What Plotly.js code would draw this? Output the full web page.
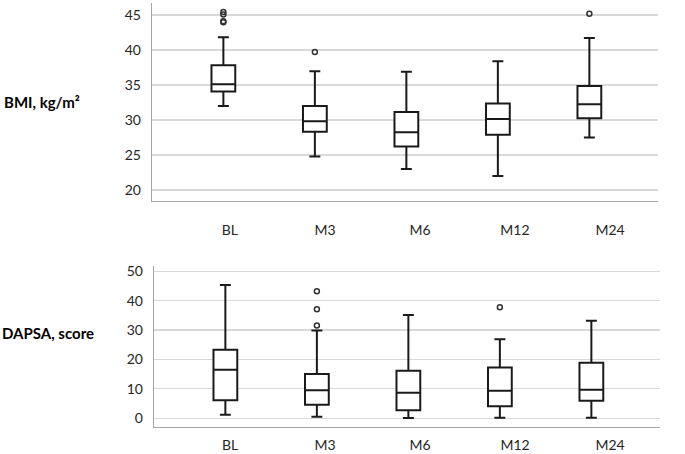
<!DOCTYPE html>
<html><head><meta charset="utf-8">
<script src="https://cdn.plot.ly/plotly-3.0.1.min.js"></script>
<style>html,body{margin:0;padding:0;background:#fff}#chart{width:685px;height:454px}</style>
</head><body><div id="chart"></div>
<script>
const categories = ['BL', 'M3', 'M6', 'M12', 'M24'];

// BMI, kg/m2
const bmiLow    = [32.0, 24.8, 23.0, 22.0, 27.5];
const bmiQ1     = [34.05, 28.3, 26.2, 27.9, 30.25];
const bmiMedian = [35.1, 29.8, 28.25, 30.15, 32.25];
const bmiQ3     = [37.8, 32.0, 31.15, 32.35, 34.85];
const bmiHigh   = [41.8, 36.95, 36.9, 38.4, 41.7];
const bmiOutlierCat = ['BL', 'BL', 'BL', 'BL', 'M3', 'M24'];
const bmiOutlierVal = [45.4, 45.05, 44.1, 43.95, 39.7, 45.15];

// DAPSA, score
const dapsaLow    = [1.2, 0.5, 0.1, 0.2, 0.2];
const dapsaQ1     = [6.1, 4.6, 2.7, 4.1, 6.0];
const dapsaMedian = [16.5, 9.5, 8.7, 9.4, 9.7];
const dapsaQ3     = [23.3, 15.1, 16.2, 17.3, 18.9];
const dapsaHigh   = [45.3, 29.9, 35.1, 26.9, 33.2];
const dapsaOutlierCat = ['M3', 'M3', 'M3', 'M12'];
const dapsaOutlierVal = [43.2, 37.1, 31.6, 37.8];

const FONT = 'Lato, "Open Sans", sans-serif';
const TXT = '#262626';

function boxTrace(xa, ya, low, q1, med, q3, high) {
  return {
    type: 'box', xaxis: xa, yaxis: ya,
    x: categories, q1: q1, median: med, q3: q3,
    lowerfence: low, upperfence: high,
    width: 0.26, whiskerwidth: 0.46,
    fillcolor: 'rgba(255,255,255,1)',
    line: {color: '#1a1a1a', width: 2},
    boxpoints: false, hoverinfo: 'skip', showlegend: false
  };
}
function outlierTrace(xa, ya, cats, vals) {
  return {
    type: 'scatter', mode: 'markers', xaxis: xa, yaxis: ya,
    x: cats, y: vals,
    marker: {symbol: 'circle-open', size: 5, color: '#333', line: {width: 1.5, color: '#333'}},
    hoverinfo: 'skip', showlegend: false
  };
}
function labelTrace(xa, ya) {
  return {type: 'scatter', mode: 'markers', xaxis: xa, yaxis: ya, x: categories,
    y: categories.map(() => null), marker: {opacity: 0}, hoverinfo: 'skip', showlegend: false};
}

const data = [
  boxTrace('x', 'y', bmiLow, bmiQ1, bmiMedian, bmiQ3, bmiHigh),
  outlierTrace('x', 'y', bmiOutlierCat, bmiOutlierVal),
  boxTrace('x2', 'y2', dapsaLow, dapsaQ1, dapsaMedian, dapsaQ3, dapsaHigh),
  outlierTrace('x2', 'y2', dapsaOutlierCat, dapsaOutlierVal),
  labelTrace('x3', 'y'),
  labelTrace('x4', 'y2')
];

const W = 685, H = 454;
const px = v => v / W, py = v => 1 - v / H;

const catAxis = (dom, anchor, range) => ({
  domain: dom, anchor: anchor, type: 'category',
  categoryorder: 'array', categoryarray: categories,
  range: range, showgrid: false, zeroline: false,
  showline: true, linecolor: '#a6a6a6', linewidth: 1.3,
  showticklabels: false, ticks: '', fixedrange: true
});
const labelAxis = (overlay, anchor, range, standoff) => ({
  overlaying: overlay, anchor: anchor, type: 'category',
  categoryorder: 'array', categoryarray: categories,
  range: range, showgrid: false, zeroline: false, showline: false,
  ticks: '', ticklabelstandoff: standoff,
  tickfont: {family: FONT, size: 14, color: TXT}
});
const valAxis = (dom, anchor, range, dtick) => ({
  domain: dom, anchor: anchor, range: range, dtick: dtick,
  showgrid: true, gridcolor: '#d9d9d9', gridwidth: 1.2, zeroline: false,
  showline: true, linecolor: '#a6a6a6', linewidth: 1.3,
  ticks: '', ticklabelstandoff: 7,
  tickfont: {family: FONT, size: 14, color: TXT}
});

const layout = {
  width: W, height: H,
  margin: {l: 0, r: 0, t: 0, b: 0},
  paper_bgcolor: '#fff', plot_bgcolor: '#fff',
  showlegend: false,
  font: {family: FONT, color: TXT},
  xaxis:  catAxis([px(152), px(658)], 'y',  [-0.78, 4.75]),
  yaxis:  valAxis([py(201), py(3)],   'x',  [18.43, 46.7], 5),
  xaxis2: catAxis([px(154), px(660)], 'y2', [-0.78, 4.75]),
  yaxis2: valAxis([py(426.7), py(266)], 'x2', [-2.86, 51.8], 10),
  xaxis3: Object.assign(labelAxis('x', 'y', [-0.82, 4.505], 19), {domain: [px(152), px(658)]}),
  xaxis4: Object.assign(labelAxis('x2', 'y2', [-0.8, 4.526], 8), {domain: [px(154), px(660)]}),
  annotations: [
    {xref: 'paper', yref: 'paper', x: px(2), y: py(102), xanchor: 'left', yanchor: 'middle',
     text: '<b>BMI, kg/m²</b>', showarrow: false, font: {family: FONT, size: 15, color: '#000'}},
    {xref: 'paper', yref: 'paper', x: px(0), y: py(333), xanchor: 'left', yanchor: 'middle',
     text: '<b>DAPSA, score</b>', showarrow: false, font: {family: FONT, size: 15, color: '#000'}}
  ]
};

Plotly.newPlot('chart', data, layout, {displayModeBar: false, staticPlot: true});
</script></body></html>
